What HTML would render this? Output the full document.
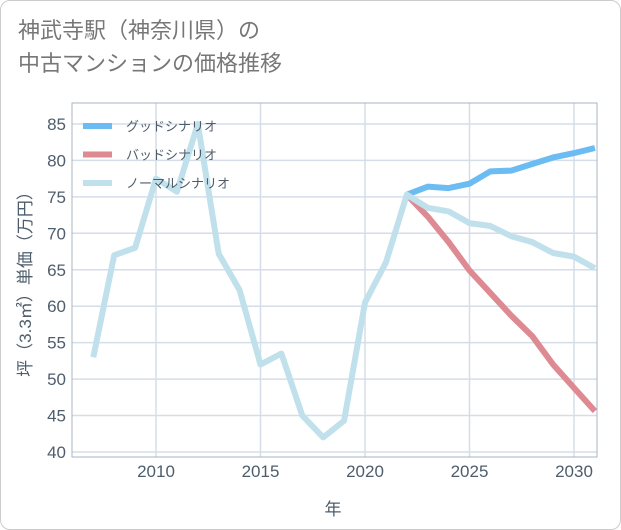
<!DOCTYPE html>
<html><head><meta charset="utf-8"><style>
body{margin:0;background:#fff;font-family:"Liberation Sans","Noto Sans CJK JP",sans-serif}
#card{position:absolute;left:0;top:0;width:619px;height:528px;border:1px solid #ccc;border-radius:10px;background:#fff}
#title{position:absolute;left:18px;top:14px;font-size:22px;line-height:33px;color:#777}
</style></head><body>
<div id="card"></div>
<div id="title">神武寺駅（神奈川県）の<br>中古マンションの価格推移</div>
<svg id="chart" width="621" height="530" style="position:absolute;left:0;top:0"></svg>
<script>
const years=[2007,2008,2009,2010,2011,2012,2013,2014,2015,2016,2017,2018,2019,2020,2021,2022,2023,2024,2025,2026,2027,2028,2029,2030,2031];
const normal=[53,67,68,77.5,75.7,85,67.2,62.2,52,53.5,45,42,44.3,60.5,66,75.3,73.5,73,71.4,71,69.6,68.8,67.3,66.8,65.2];
const futureYears=[2022,2023,2024,2025,2026,2027,2028,2029,2030,2031];
const good=[75.3,76.4,76.2,76.8,78.5,78.6,79.5,80.4,81,81.7];
const bad=[75.3,72.3,68.8,64.9,61.8,58.7,55.9,52,48.8,45.6];
const yTicks=[40,45,50,55,60,65,70,75,80,85];
const xTicks=[2010,2015,2020,2025,2030];
const L=72,R=597,T=103,B=457;
const TC='#4e5d6c';
const x=v=>156+(v-2010)*20.9;
const y=v=>452-(v-40)*7.29;
const svg=document.getElementById('chart');const NS='http://www.w3.org/2000/svg';
function mk(t,a,p){const e=document.createElementNS(NS,t);for(const k in a)e.setAttribute(k,a[k]);(p||svg).appendChild(e);return e;}
yTicks.forEach(v=>{const l=mk('line',{x1:L,x2:R,y1:y(v),y2:y(v),stroke:'#d5dee8','stroke-width':1.5});

const t=mk('text',{x:L-6,y:y(v)+6,'text-anchor':'end','font-size':17,fill:TC});t.textContent=v;
});
xTicks.forEach(v=>{const l=mk('line',{x1:x(v),x2:x(v),y1:T,y2:B,stroke:'#d5dee8','stroke-width':1.5});

const t=mk('text',{x:x(v),y:B+20,'text-anchor':'middle','font-size':17,fill:TC});t.textContent=v;
});
const fr=mk('rect',{x:L,y:T,width:R-L,height:B-T,fill:'none',stroke:'#a9b4c0','stroke-width':1});

function line(xs,ys,c,n){const p=mk('polyline',{points:xs.map((v,i)=>x(v)+','+y(ys[i])).join(' '),fill:'none',stroke:c,'stroke-width':6,'stroke-linejoin':'round'});
}
line(futureYears,good,'#6bbcf2','good-scenario-line');
line(futureYears,bad,'#de8a92','bad-scenario-line');
line(years,normal,'#c0e0ec','normal-scenario-line');
[['グッドシナリオ','#6bbcf2'],['バッドシナリオ','#de8a92'],['ノーマルシナリオ','#c0e0ec']].forEach((d,i)=>{const yy=126+i*28.5;
const s=mk('line',{x1:83,x2:112,y1:yy,y2:yy,stroke:d[1],'stroke-width':6});

const t=mk('text',{x:126,y:yy+5,'font-size':13,fill:TC});t.textContent=d[0];
});
const yt=mk('text',{transform:'translate(31,280) rotate(-90)','text-anchor':'middle','font-size':17,fill:TC});yt.textContent='坪（3.3㎡）単価（万円）';

const xt=mk('text',{x:333,y:515,'text-anchor':'middle','font-size':17,fill:TC});xt.textContent='年';

</script>
</body></html>
